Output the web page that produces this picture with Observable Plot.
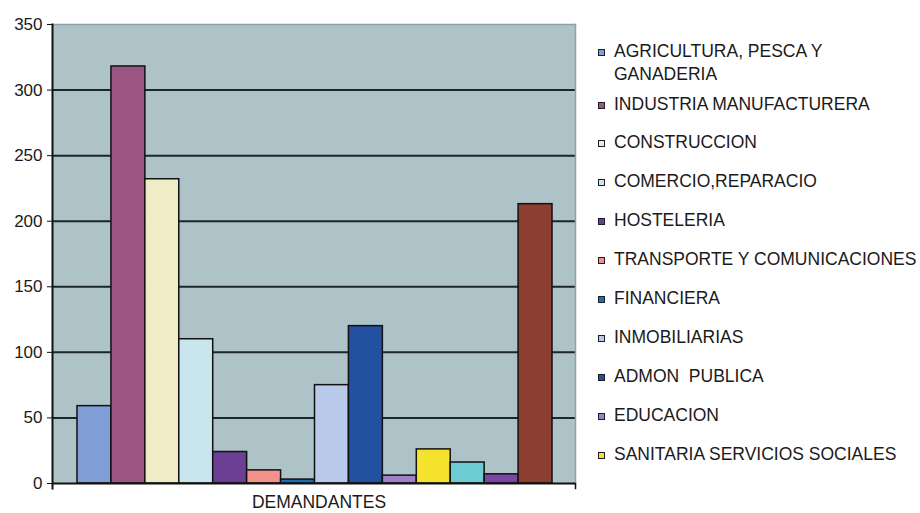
<!DOCTYPE html>
<html>
<head>
<meta charset="utf-8">
<script src="https://cdn.jsdelivr.net/npm/d3@7"></script>
<script src="https://cdn.jsdelivr.net/npm/@observablehq/plot@0.6"></script>
<style>
  html, body { margin: 0; padding: 0; background: #fff; }
  #wrap { position: relative; width: 920px; height: 513px; overflow: hidden; font-family: "Liberation Sans", Arial, sans-serif; }
  #legend { position: absolute; left: 598px; top: 40px; color: #1a1a1a; font-size: 17.5px; white-space: nowrap; }
  .item { position: relative; padding-left: 16px; line-height: 23px; margin-bottom: 15.9px; }
  .item:first-child { margin-bottom: 6.6px; }
  .sw { position: absolute; left: 0; top: 9px; width: 5px; height: 5px; border: 1.6px solid #1e1e28; }
</style>
</head>
<body>
<div id="wrap"><div id="chart"></div><div id="legend"></div></div>
<script>
// ---- data ----
const sectors = [
  "AGRICULTURA, PESCA Y GANADERIA",
  "INDUSTRIA MANUFACTURERA",
  "CONSTRUCCION",
  "COMERCIO,REPARACIO",
  "HOSTELERIA",
  "TRANSPORTE Y COMUNICACIONES",
  "FINANCIERA",
  "INMOBILIARIAS",
  "ADMON  PUBLICA",
  "EDUCACION",
  "SANITARIA SERVICIOS SOCIALES",
  "OTRAS ACTIVIDADES SOCIALES",
  "HOGARES",
  "SIN EMPLEO ANTERIOR"
];
const values = [59, 318, 232, 110, 24, 10, 3, 75, 120, 6, 26, 16, 7, 213];
const colors = ["#7f9fd6", "#9b5583", "#f1ecc8", "#c9e6ee", "#6a3f94", "#f2928a", "#1a6fb0",
                "#b9c9ea", "#2450a0", "#a07fc8", "#f5e22c", "#6cccd4", "#7b46a3", "#8c3e30"];
const legendLabels = [
  ["AGRICULTURA, PESCA Y", "GANADERIA"],
  ["INDUSTRIA MANUFACTURERA"],
  ["CONSTRUCCION"],
  ["COMERCIO,REPARACIO"],
  ["HOSTELERIA"],
  ["TRANSPORTE Y COMUNICACIONES"],
  ["FINANCIERA"],
  ["INMOBILIARIAS"],
  ["ADMON&nbsp; PUBLICA"],
  ["EDUCACION"],
  ["SANITARIA SERVICIOS SOCIALES"]
];
const yTicks = [0, 50, 100, 150, 200, 250, 300, 350];
const categoryLabel = ["DEMANDANTES"];

const data = sectors.map((s, i) => ({sector: s, value: values[i]}));

const chart = Plot.plot({
  width: 920,
  height: 513,
  marginLeft: 52,
  marginRight: 345,
  marginTop: 24,
  marginBottom: 30,
  style: {fontFamily: "'Liberation Sans', Arial, sans-serif", background: "transparent", color: "#1a1a1a"},
  x: {domain: sectors, range: [77, 552], padding: 0, round: false, axis: null},
  y: {domain: [0, 350], axis: null},
  color: {domain: sectors, range: colors},
  marks: [
    Plot.frame({fill: "#adc3c7", stroke: "none"}),
    Plot.ruleY(yTicks.filter(d => d > 0 && d < 350), {stroke: "#1d252e", strokeWidth: 2}),
    Plot.frame({anchor: "top", stroke: "#8ea2a6", strokeWidth: 1.5}),
    Plot.frame({anchor: "right", stroke: "#8ea2a6", strokeWidth: 1.5}),
    Plot.barY(data, {x: "sector", y: "value", fill: "sector", stroke: "#111", strokeWidth: 1.5}),
    Plot.axisY({ticks: yTicks, tickSize: 5, tickPadding: 5, fontSize: 17, label: null, tickFormat: d => String(d), stroke: "#111"}),
    Plot.frame({anchor: "left", stroke: "#111", strokeWidth: 2, insetBottom: -5}),
    Plot.frame({anchor: "right", stroke: "#111", strokeWidth: 1.5, insetTop: 459, insetBottom: -5}),
    Plot.ruleY([0], {stroke: "#111", strokeWidth: 2}),
    Plot.text(categoryLabel, {frameAnchor: "bottom", dy: 24, dx: 5, fontSize: 17.5, fill: "#1a1a1a"})
  ]
});
document.getElementById("chart").appendChild(chart);

const legend = document.getElementById("legend");
legendLabels.forEach((lines, i) => {
  const div = document.createElement("div");
  div.className = "item";
  const sw = document.createElement("span");
  sw.className = "sw";
  sw.style.background = colors[i];
  div.appendChild(sw);
  div.insertAdjacentHTML("beforeend", lines.join("<br>"));
  legend.appendChild(div);
});
</script>
</body>
</html>
